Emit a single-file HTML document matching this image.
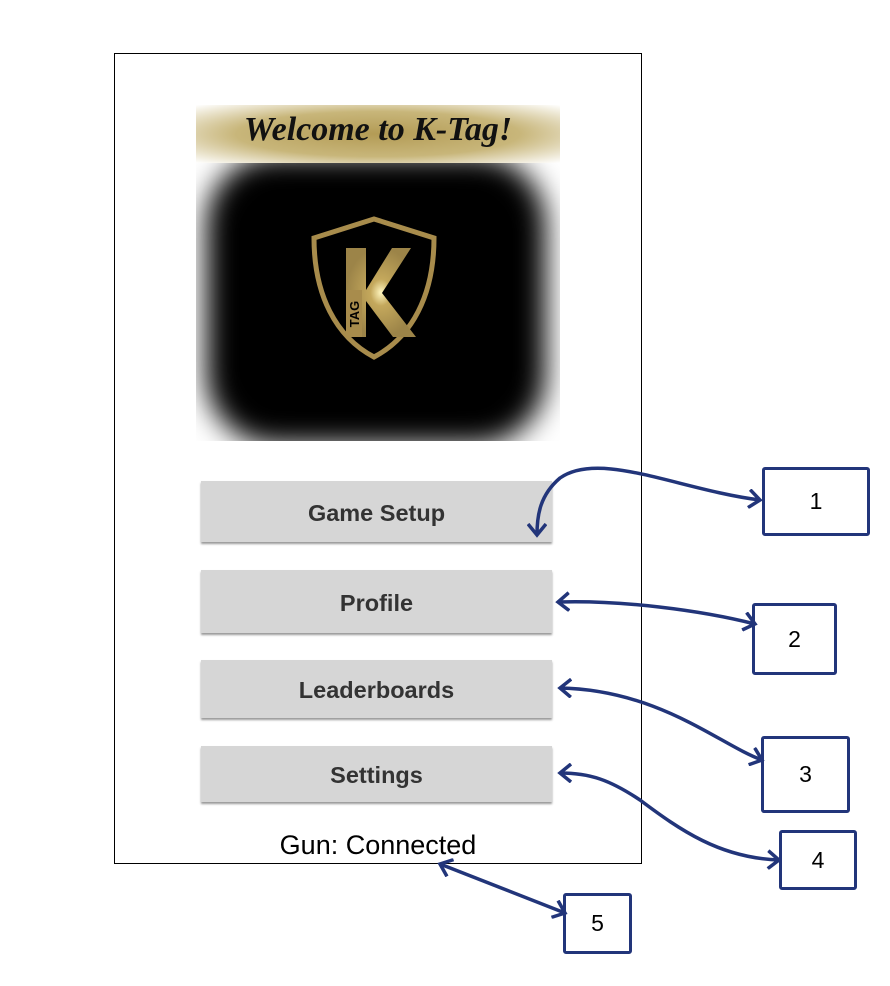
<!DOCTYPE html>
<html><head><meta charset="utf-8"><style>
body{margin:0;background:#fff;width:890px;height:986px;overflow:hidden;position:relative;font-family:"Liberation Sans",sans-serif}
.frame{position:absolute;left:114px;top:53px;width:526px;height:809px;border:1.5px solid #000}
.btn{position:absolute;left:201px;width:351px;background:#d6d6d6;box-shadow:0 2px 2px #999;font-weight:bold;font-size:23.5px;color:#333;display:flex;align-items:center;justify-content:center;padding-top:3px;box-sizing:border-box}
.box{position:absolute;border:3px solid #22357a;border-radius:3px;background:#fff;display:flex;align-items:center;justify-content:center;font-size:23px;color:#000;box-sizing:border-box}
</style></head><body>
<div class="frame"></div>
<div style="position:absolute;left:196px;top:105px;width:364px;height:336px;background:#fff;overflow:hidden">
 <div style="position:absolute;left:10px;top:50px;width:340px;height:290px;background:#000;border-radius:70px;filter:blur(14px)"></div>
 <div style="position:absolute;left:0;top:0;width:364px;height:58px;background:radial-gradient(ellipse at center,#b39b55 0%,#c8b67a 55%,#fff 100%)"></div>
 <div style="position:absolute;left:0;top:6px;width:364px;text-align:center;font-family:'Liberation Serif',serif;font-style:italic;font-weight:bold;font-size:34px;color:#111">Welcome to K-Tag!</div>
 <svg style="position:absolute;left:0;top:0" width="364" height="336">
  <defs><radialGradient id="g" cx="0.5" cy="0.5" r="0.5"><stop offset="0" stop-color="#fff6c0"/><stop offset="0.3" stop-color="#c4a85c"/><stop offset="1" stop-color="#9c8448"/></radialGradient></defs>
  <path d="M118,133 L178,114 L238,133 C238,190 216,232 178,252 C140,232 118,190 118,133 Z" fill="none" stroke="#a88c4c" stroke-width="5"/>
  <path d="M150,143 L170,143 L170,185 L196,143 L215,143 L186,188 L220,232 L197,232 L170,196 L170,232 L150,232 Z" fill="url(#g)"/>
  <rect x="150" y="185" width="16" height="47" fill="#a88c4c"/>
  <text x="163" y="209" transform="rotate(-90 163 209)" font-size="13" font-family="Liberation Sans" font-weight="bold" fill="#000" text-anchor="middle">TAG</text>
 </svg>
</div>
<div class="btn" style="top:481px;height:61px">Game Setup</div>
<div class="btn" style="top:570px;height:63px">Profile</div>
<div class="btn" style="top:660px;height:58px">Leaderboards</div>
<div class="btn" style="top:746px;height:56px">Settings</div>
<div style="position:absolute;left:220px;top:830px;width:316px;text-align:center;font-size:27px;color:#000">Gun: Connected</div>
<div class="box" style="left:762px;top:467px;width:108px;height:69px">1</div>
<div class="box" style="left:752px;top:603px;width:85px;height:72px">2</div>
<div class="box" style="left:761px;top:736px;width:89px;height:77px">3</div>
<div class="box" style="left:779px;top:830px;width:78px;height:60px">4</div>
<div class="box" style="left:563px;top:893px;width:69px;height:61px">5</div>
<svg style="position:absolute;left:0;top:0" width="890" height="986">
 <defs><marker id="a" markerWidth="20" markerHeight="20" refX="12" refY="10" orient="auto-start-reverse" markerUnits="userSpaceOnUse"><path d="M1,1 L12,10 L1,19" fill="none" stroke="#22357a" stroke-width="3.5"/></marker></defs>
 <g fill="none" stroke="#22357a" stroke-width="3.5" marker-start="url(#a)" marker-end="url(#a)">
  <path d="M537,535 C537,515 540,495 560,478 C600,450 680,490 760,500"/>
  <path d="M558,602 C620,600 700,610 755,624"/>
  <path d="M560,688 C660,690 720,745 762,760"/>
  <path d="M560,773 C590,773 610,780 640,800 C680,830 720,858 779,860"/>
  <path d="M440,864 L565,913"/>
 </g>
</svg>
</body></html>
